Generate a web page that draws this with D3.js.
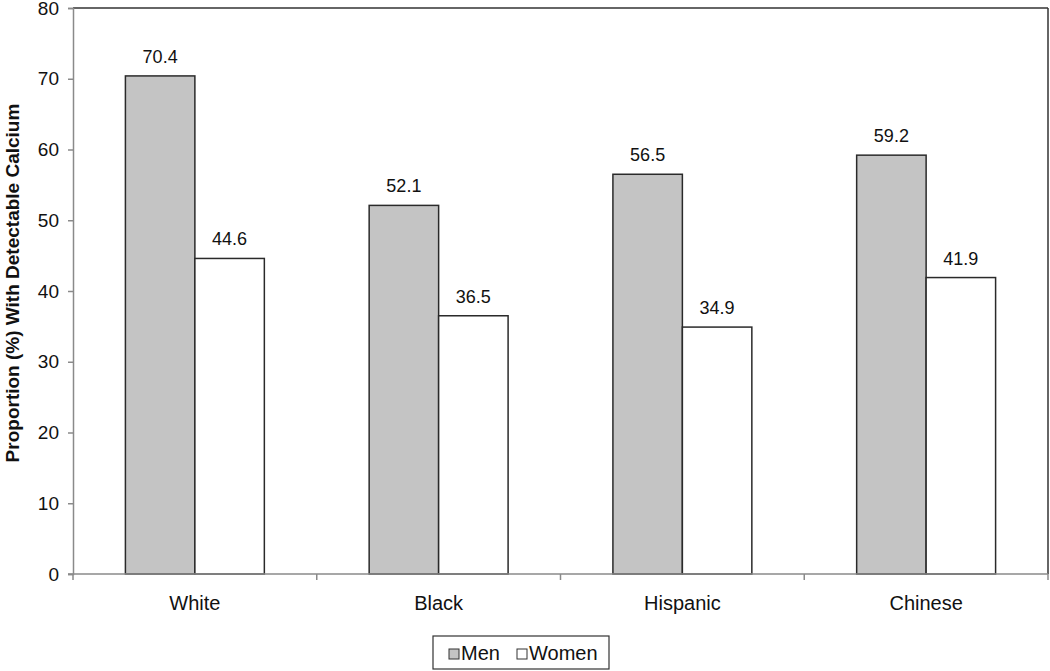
<!DOCTYPE html>
<html>
<head>
<meta charset="utf-8">
<script src="https://cdn.jsdelivr.net/npm/d3@7"></script>
<style>
body{margin:0;background:#fff;}
svg text{font-family:"Liberation Sans",Arial,sans-serif;fill:#111;}
</style>
</head>
<body>
<svg id="chart" width="1050" height="671"></svg>
<script>
const categories = ["White","Black","Hispanic","Chinese"];
const seriesNames = ["Men","Women"];
const menValues = [70.4,52.1,56.5,59.2];
const womenValues = [44.6,36.5,34.9,41.9];
const yTicks = [0,10,20,30,40,50,60,70,80];
const yLabel = "Proportion (%) With Detectable Calcium";
const seriesColors = ["#c4c4c4","#ffffff"];

(function(){
const svg = d3.select("#chart");
const mLeft = 73, mRight = 1048, mTop = 8, mBottom = 574;

const x0 = d3.scaleBand().domain(categories).range([mLeft,mRight]).paddingInner(0).paddingOuter(0);
const groupW = x0.bandwidth()*0.57;
const x1 = d3.scaleBand().domain(seriesNames).range([0,groupW]).padding(0);
const y = d3.scaleLinear().domain([0,80]).range([mBottom,mTop]);

const data = categories.map((c,i)=>({cat:c, vals:[{s:"Men",v:menValues[i],c:seriesColors[0]},{s:"Women",v:womenValues[i],c:seriesColors[1]}]}));

// plot border top & right
svg.append("line").attr("x1",mLeft).attr("x2",mRight).attr("y1",mTop).attr("y2",mTop).attr("stroke","#333").attr("stroke-width",1.5);
svg.append("line").attr("x1",mRight).attr("x2",mRight).attr("y1",mTop).attr("y2",mBottom).attr("stroke","#333").attr("stroke-width",1.5);

// y axis
const yAxis = svg.append("g").attr("transform",`translate(${mLeft},0)`)
  .call(d3.axisLeft(y).tickValues(yTicks).tickSize(5).tickPadding(9));
yAxis.select(".domain").attr("stroke","#8a8a8a").attr("stroke-width",1.5);
yAxis.selectAll(".tick line").attr("stroke","#8a8a8a").attr("stroke-width",1.5);
yAxis.selectAll("text").attr("font-size",19).attr("fill","#111").style("font-family","Liberation Sans, Arial, sans-serif");

// bars
const g = svg.append("g");
data.forEach(d=>{
  const gx = x0(d.cat) + (x0.bandwidth()-groupW)/2;
  d.vals.forEach(b=>{
    g.append("rect")
      .attr("x",gx+x1(b.s)).attr("y",y(b.v))
      .attr("width",x1.bandwidth()).attr("height",y(0)-y(b.v))
      .attr("fill",b.c).attr("stroke","#2a2a2a").attr("stroke-width",1.5);
    g.append("text")
      .attr("x",gx+x1(b.s)+x1.bandwidth()/2).attr("y",y(b.v)-13)
      .attr("text-anchor","middle").attr("font-size",18).text(b.v.toFixed(1));
  });
});

// x axis
const xAxis = svg.append("g").attr("transform",`translate(0,${mBottom})`)
  .call(d3.axisBottom(x0).tickSize(0).tickPadding(22));
xAxis.select(".domain").attr("stroke","#8a8a8a").attr("stroke-width",1.5).attr("d",`M${mLeft-5},0H${mRight}`);
xAxis.selectAll("text").attr("font-size",20).attr("dy",null).attr("y",36).attr("fill","#111").style("font-family","Liberation Sans, Arial, sans-serif");
// category boundary ticks
const bounds = categories.map(c=>x0(c)).concat([mRight]);
svg.append("g").selectAll("line").data(bounds).enter().append("line")
  .attr("x1",d=>d).attr("x2",d=>d).attr("y1",mBottom).attr("y2",mBottom+6)
  .attr("stroke","#8a8a8a").attr("stroke-width",1.5);

// y label
svg.append("text").attr("transform",`translate(19,283) rotate(-90)`)
  .attr("text-anchor","middle").attr("font-size",19).attr("font-weight","bold").text(yLabel);

// legend
const lg = svg.append("g");
lg.append("rect").attr("x",433).attr("y",636).attr("width",176).attr("height",33)
  .attr("fill","#fff").attr("stroke","#333").attr("stroke-width",1.2);
const legX = [449,517];
seriesNames.forEach((s,i)=>{
  lg.append("rect").attr("x",legX[i]).attr("y",649).attr("width",10).attr("height",10)
    .attr("fill",seriesColors[i]).attr("stroke","#333").attr("stroke-width",1);
  lg.append("text").attr("x",legX[i]+12).attr("y",660).attr("font-size",20).text(s);
});
})();
</script>
</body>
</html>
